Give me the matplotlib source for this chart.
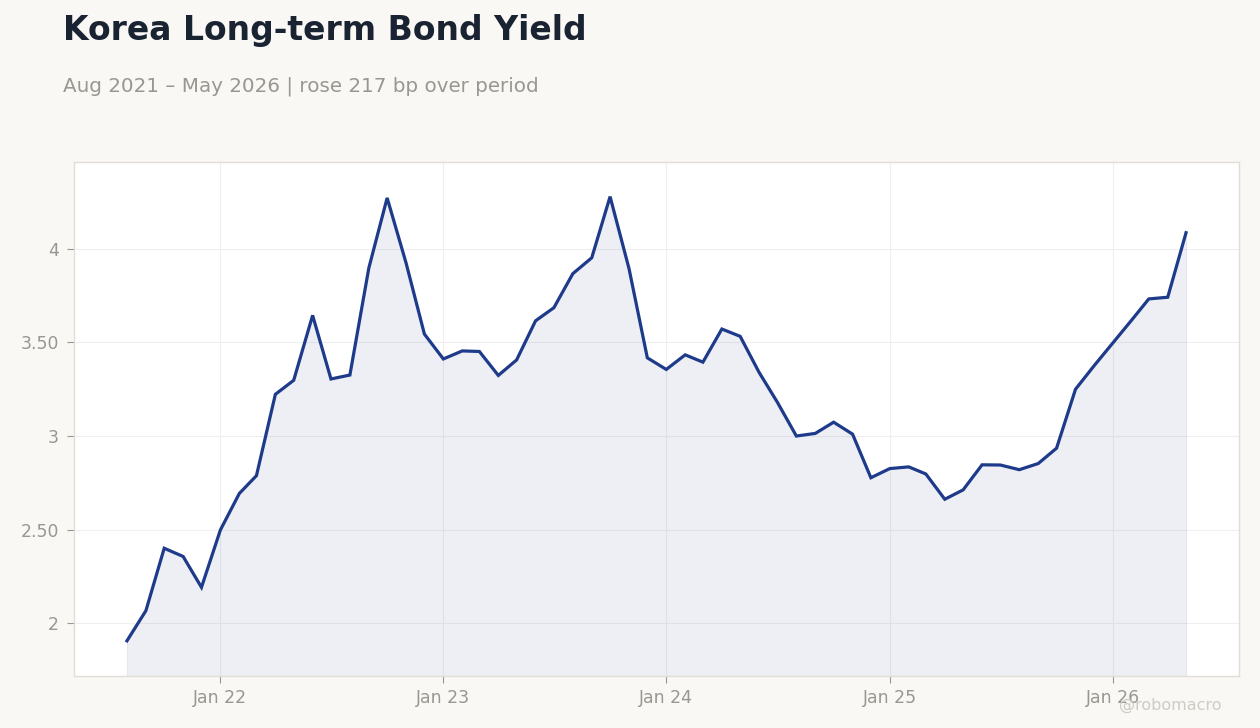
import matplotlib
matplotlib.use("Agg")
import matplotlib.pyplot as plt
import matplotlib.dates as mdates
import pandas as pd

dates = pd.date_range("2021-08-01", "2026-05-01", freq="MS")
yields = [
    1.905, 2.066, 2.400, 2.356, 2.191,
    2.498, 2.693, 2.788, 3.223, 3.298, 3.645, 3.305, 3.326, 3.898, 4.273, 3.925, 3.545,
    3.412, 3.455, 3.452, 3.324, 3.407, 3.616, 3.686, 3.868, 3.953, 4.280, 3.895, 3.418,
    3.356, 3.434, 3.395, 3.572, 3.533, 3.340, 3.180, 3.000, 3.014, 3.074, 3.010, 2.777,
    2.826, 2.835, 2.797, 2.662, 2.712, 2.846, 2.845, 2.820, 2.853, 2.935, 3.250, 3.374,
    3.497, 3.620, 3.733, 3.742, 4.087,
]
ytick_vals = [2, 2.5, 3, 3.5, 4]
ytick_labels = ["2", "2.50", "3", "3.50", "4"]
xtick_dates = pd.to_datetime(["2022-01-01", "2023-01-01", "2024-01-01", "2025-01-01", "2026-01-01"])
title = "Korea Long-term Bond Yield"
subtitle = "Aug 2021 \u2013 May 2026 | rose 217 bp over period"
watermark = "@robomacro"

BG = "#f9f8f5"
LINE = "#1e3a8a"
GRAY = "#9a9690"
SPINE = "#e2ddd5"

fig = plt.figure(figsize=(12.6, 7.28), dpi=100, facecolor=BG)
ax = fig.add_axes([74/1260, 1-676/728, (1239-74)/1260, (676-162)/728])
ax.set_facecolor("white")

ymin, ymax = 1.717, 4.465
ax.plot(dates, yields, color=LINE, lw=2.3, zorder=3, solid_joinstyle="miter")
ax.fill_between(dates, yields, ymin, color=LINE, alpha=0.08, lw=0.8, zorder=2)
ax.margins(x=0.05)
ax.set_ylim(ymin, ymax)

ax.set_yticks(ytick_vals)
ax.set_yticklabels(ytick_labels)
ax.set_xticks(xtick_dates)
ax.xaxis.set_major_formatter(mdates.DateFormatter("%b %y"))

ax.grid(True, color="#efefef", lw=0.8, zorder=0)
ax.set_axisbelow(True)
for s in ax.spines.values():
    s.set_color(SPINE)
    s.set_linewidth(1.0)
ax.tick_params(axis="both", colors=GRAY, labelsize=12.4, length=5, width=0.8)
ax.tick_params(axis="y", pad=6)
ax.tick_params(axis="x", pad=4.5)

fig.text(63/1260, 1-40/728, title, fontsize=23.8, fontweight="bold", color="#1a2332",
         ha="left", va="baseline")
fig.text(63/1260, 1-92/728, subtitle, fontsize=14.3, color=GRAY, ha="left", va="baseline")
fig.text(1221/1260, 1-705/728, watermark, fontsize=11.5, color="#cfcbc5", ha="right", va="center")

fig.savefig("out.png", dpi=100, facecolor=BG)
